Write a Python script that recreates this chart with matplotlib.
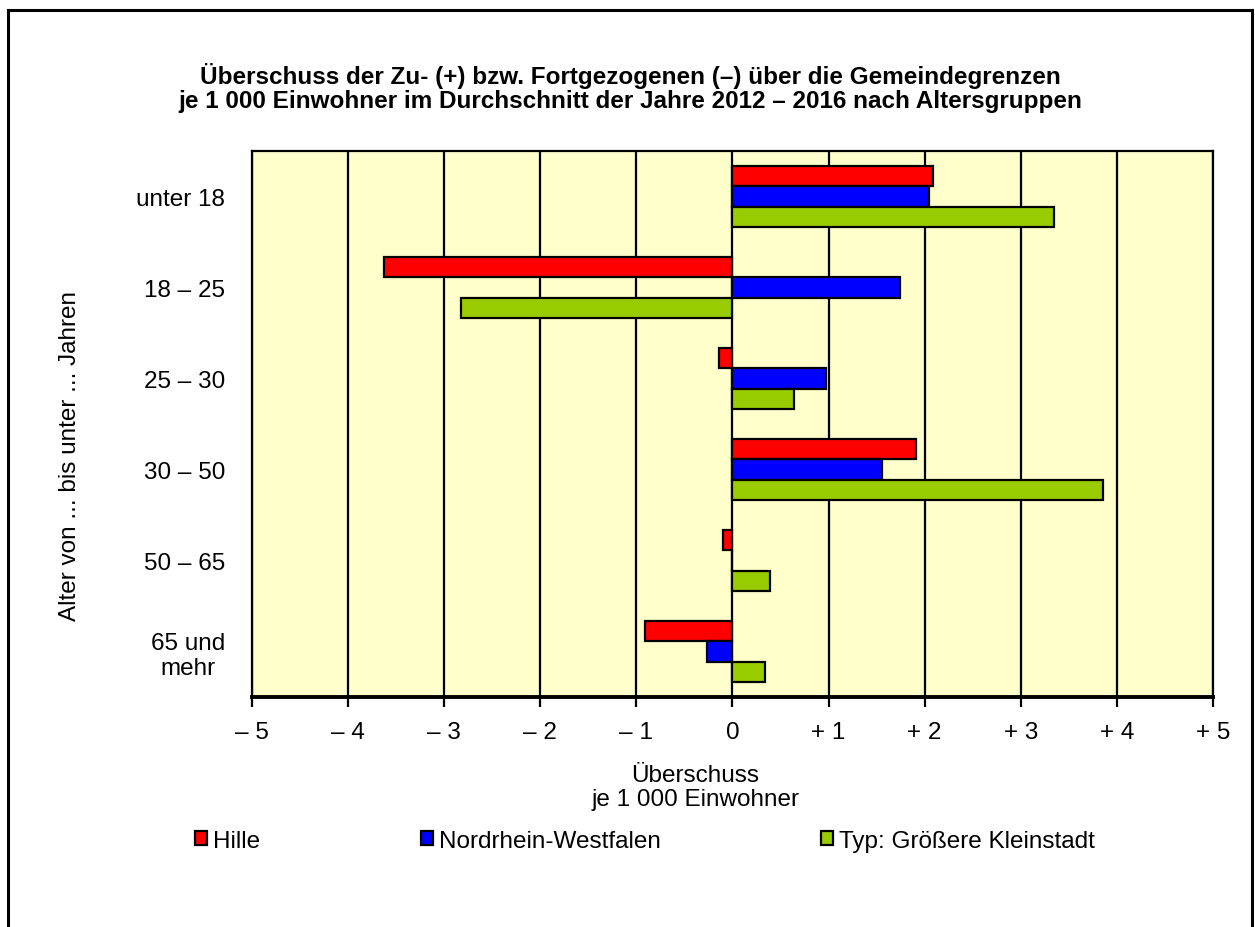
import numpy as np
import matplotlib
matplotlib.use("Agg")
import matplotlib.pyplot as plt
from matplotlib.lines import Line2D

plt.rcParams['font.family'] = ['Liberation Sans', 'DejaVu Sans']

# Daten (Überschuss je 1 000 Einwohner)
altersgruppen = ["unter 18", "18 – 25", "25 – 30", "30 – 50", "50 – 65", "65 und\nmehr"]
hille = [2.09, -3.63, -0.14, 1.91, -0.10, -0.91]
nrw = [2.05, 1.74, 0.97, 1.56, 0.0, -0.26]
kleinstadt = [3.35, -2.82, 0.64, 3.86, 0.39, 0.34]
reihen = ["Hille", "Nordrhein-Westfalen", "Typ: Größere Kleinstadt"]
farben = ["#FF0000", "#0000FF", "#99CC00"]
x_ticks = [-5, -4, -3, -2, -1, 0, 1, 2, 3, 4, 5]
x_labels = ["– 5", "– 4", "– 3", "– 2", "– 1", "0", "+ 1", "+ 2", "+ 3", "+ 4", "+ 5"]

fig = plt.figure(figsize=(12.55, 9.28), dpi=100)
ax = fig.add_axes([0.2008, 0.2478, 0.7657, 0.5884])
ax.set_facecolor("#FFFFCC")

y = np.arange(len(altersgruppen))
h = 0.225
for i, (werte, farbe, name) in enumerate(zip([hille, nrw, kleinstadt], farben, reihen)):
    ax.barh(y + (i - 1) * h, werte, height=h, color=farbe, edgecolor="black",
            linewidth=1.6, label=name, zorder=3)

ax.set_xlim(-5, 5)
ax.set_ylim(len(altersgruppen) - 0.5, -0.5)
ax.set_xticks(x_ticks)
ax.set_xticklabels(x_labels, fontsize=17.5)
ax.set_yticks(y)
ax.set_yticklabels(altersgruppen, fontsize=17.5, ma="center")
ax.tick_params(axis="y", length=0, pad=19.5)
ax.tick_params(axis="x", length=7, width=1.6, direction="out", pad=10)

ax.grid(axis="x", color="black", linewidth=1.6, zorder=1)
for s in ax.spines.values():
    s.set_linewidth(1.6)
ax.spines["bottom"].set_linewidth(2.8)

fig.text(0.502, 0.905, "Überschuss der Zu- (+) bzw. Fortgezogenen (–) über die Gemeindegrenzen\n"
         "je 1 000 Einwohner im Durchschnitt der Jahre 2012 – 2016 nach Altersgruppen",
         ha="center", va="center", fontsize=17.5, fontweight="bold", linespacing=1.02)
fig.text(0.0558, 0.5086, "Alter von ... bis unter ... Jahren", rotation=90,
         ha="center", va="center", fontsize=17.5)
fig.text(0.554, 0.151, "Überschuss\nje 1 000 Einwohner", ha="center", va="center",
         fontsize=17.5, linespacing=1.1)

fig.legend(loc="center", bbox_to_anchor=(0.514, 0.093), ncol=3, frameon=False,
           fontsize=17.5, handlelength=0.5, handleheight=0.5, handletextpad=0.25,
           columnspacing=6.6)

# Rahmen um die Grafik
rahmen = dict(color="black", linewidth=2.2, transform=fig.transFigure)
fig.add_artist(Line2D([8 / 1255, 8 / 1255], [0, 1 - 11 / 928], **rahmen))
fig.add_artist(Line2D([8 / 1255, 1252 / 1255], [1 - 11 / 928, 1 - 11 / 928], **rahmen))
fig.add_artist(Line2D([1252 / 1255, 1252 / 1255], [0, 1 - 11 / 928], **rahmen))

fig.savefig("out.png", dpi=100)
